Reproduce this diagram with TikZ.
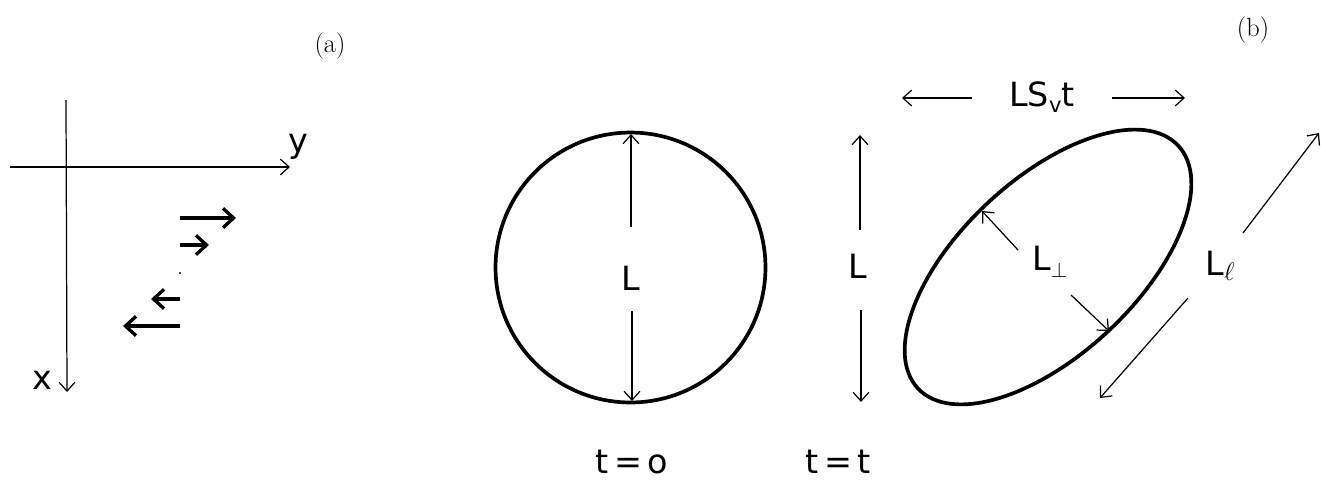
\documentclass[tikz,border=0pt]{standalone}
\usepackage{fontspec}
\usepackage{tikz}
\usetikzlibrary{arrows.meta,positioning,calc}
\newfontfamily\plotfont{DejaVu Sans}

\tikzset{
  lbl/.style={font=\plotfont\fontsize{19}{22}\selectfont,inner sep=1pt},
  tag/.style={font=\fontsize{15}{17}\selectfont,inner sep=1pt},
  dim/.style={line width=0.7pt,-{Straight Barb[length=5pt,width=9pt]}},
  flow/.style={line width=1.9pt,-{Straight Barb[length=6pt,width=11pt,line width=1.9pt]}},
  rim/.style={line width=2.1pt}
}

\begin{document}
\begin{tikzpicture}[x=0.02cm,y=-0.02cm]
  \useasboundingbox (0,0) rectangle (1321,481);

  % panel tags
  \node[tag] (taga) at (330,46) {(a)};
  \node[tag] (tagb) at (1253,30) {(b)};

  % (a) axes
  \coordinate (yaxL) at (10,167);
  \coordinate (yaxR) at (290,167);
  \coordinate (xaxT) at (66,100);
  \coordinate (xaxB) at (67,392);
  \draw[dim] (yaxL) -- (yaxR);
  \draw[dim] (xaxT) -- (xaxB);
  \node[lbl] (ylab) at (298,147) {y};
  \node[lbl] (xlab) at (42,380) {x};

  % (a) shear flow
  \draw[flow] (180,218) -- (236,218);
  \draw[flow] (180,245) -- (209,245);
  \fill (180,273) circle [radius=0.7pt];
  \draw[flow] (180,299) -- (151,299);
  \draw[flow] (180,326) -- (123,326);

  % (b) circle, t = 0
  \coordinate (c0) at (630.5,267.5);
  \coordinate (c0top) at (631,134);
  \coordinate (c0bot) at (632,401);
  \draw[rim] (c0) circle [radius=2.7cm];
  \node[lbl] (Lc) at (631,278) {L};
  \draw[dim] (631,227) -- (c0top);
  \draw[dim] (632,311) -- (c0bot);
  \node[lbl] (t0) at (632,462) {t\,=\,o};

  % (b) sheared ellipse, t = t
  \coordinate (c1) at (1048,267);
  \draw[rim,rotate around={43:(c1)}] (c1) ellipse [x radius=3.56cm,y radius=1.76cm];
  \node[lbl] (Lr) at (858,266) {L};
  \draw[dim] (860,230) -- (860,135);
  \draw[dim] (861,310) -- (861,402);
  \node[lbl] (Lperp) at (1050,262) {L\raisebox{-0.35ex}{\fontsize{13}{15}\selectfont$\perp$}};
  \draw[dim] (1018,250) -- (982,211);
  \draw[dim] (1071,295) -- (1109,331);
  \node[lbl] (Lell) at (1220,266) {L\raisebox{-0.3ex}{\fontsize{14}{15}\selectfont$\ell$}};
  \draw[dim] (1243,233) -- (1319,133);
  \draw[dim] (1188,298) -- (1100,398);
  \node[lbl] (LSvt) at (1042,97) {LS\raisebox{-0.3ex}{\fontsize{12}{14}\selectfont v}t};
  \draw[dim] (972,98) -- (902,98);
  \draw[dim] (1112,98) -- (1185,98);
  \node[lbl] (tt) at (838,462) {t\,=\,t};
\end{tikzpicture}
\end{document}
